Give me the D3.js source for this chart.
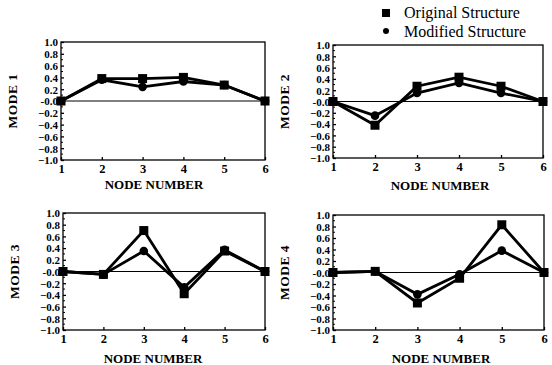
<!DOCTYPE html>
<html lang="en">
  <head>
    <meta charset="UTF-8" />
    <title>Mode shapes</title>
    <script src="https://d3js.org/d3.v7.min.js"></script>
    <style>
      body { margin: 0; background: #fff; }
      svg text { font-family: "Liberation Serif", "DejaVu Serif", serif; font-weight: bold; fill: #000; }
    </style>
  </head>
  <body>
    <svg id="chart" width="552" height="365"></svg>
    <script>
      let nodes = [1, 2, 3, 4, 5, 6]
      let yTicks = [1.0, 0.8, 0.6, 0.4, 0.2, 0.0, -0.2, -0.4, -0.6, -0.8, -1.0]
      let modeNames = ['MODE 1', 'MODE 2', 'MODE 3', 'MODE 4']
      let original1 = [0, 0.38, 0.38, 0.40, 0.27, 0]
      let modified1 = [0, 0.36, 0.24, 0.33, 0.27, 0]
      let original2 = [0, -0.42, 0.27, 0.43, 0.27, 0]
      let modified2 = [0, -0.25, 0.15, 0.33, 0.15, 0]
      let original3 = [0, -0.05, 0.70, -0.38, 0.35, 0]
      let modified3 = [0, -0.05, 0.35, -0.27, 0.37, 0]
      let original4 = [0, 0.02, -0.53, -0.10, 0.83, 0]
      let modified4 = [0, 0.02, -0.38, -0.03, 0.38, 0]

      let originals = [original1, original2, original3, original4]
      let modifieds = [modified1, modified2, modified3, modified4]

      // panel boxes: left, right, top, bottom, x-title center, x-title baseline offset
      let boxes = [
        [61, 265, 42, 160, 154, 29],
        [333, 543, 45, 158, 440, 32],
        [63, 265, 213, 330, 153, 33],
        [333, 544, 215, 330, 441, 33],
      ]

      let svg = d3.select('#chart')

      function fmt(d) {
        if (d === 0) return '-0.0'
        return d3.format('.1f')(d)
      }

      boxes.forEach(function(b, i) {
        let x = d3.scaleLinear().domain([1, 6]).range([b[0], b[1]])
        let y = d3.scaleLinear().domain([-1, 1]).range([b[3], b[2]])
        let g = svg.append('g')

        g.append('rect')
          .attr('x', b[0]).attr('y', b[2])
          .attr('width', b[1] - b[0]).attr('height', b[3] - b[2])
          .attr('fill', 'none').attr('stroke', '#000').attr('stroke-width', 1.3)

        // left axis, ticks inward
        let yAxis = d3.axisLeft(y).tickValues(yTicks).tickFormat(fmt).tickSizeInner(-3).tickSizeOuter(0).tickPadding(3)
        let ya = g.append('g').attr('transform', `translate(${b[0]},0)`).call(yAxis)
        ya.select('.domain').remove()
        ya.selectAll('line').attr('stroke-width', 1.3)
        ya.selectAll('text').style('font-size', '11px').attr('dy', '0.35em')

        // minor ticks
        g.selectAll('.minor')
          .data(d3.range(-0.9, 1.0, 0.2))
          .enter().append('line')
          .attr('x1', b[0]).attr('x2', b[0] + 2)
          .attr('y1', d => y(d)).attr('y2', d => y(d))
          .attr('stroke', '#000')

        let xAxis = d3.axisBottom(x).tickValues(nodes).tickFormat(d3.format('d')).tickSizeInner(-3).tickSizeOuter(0).tickPadding(4)
        let xa = g.append('g').attr('transform', `translate(0,${b[3]})`).call(xAxis)
        xa.select('.domain').remove()
        xa.selectAll('line').attr('stroke-width', 1.3)
        xa.selectAll('text').style('font-size', '12.5px')

        // zero line
        g.append('line')
          .attr('x1', b[0]).attr('x2', b[1])
          .attr('y1', y(0)).attr('y2', y(0))
          .attr('stroke', '#000').attr('stroke-width', 1)

        g.append('text')
          .attr('x', b[4]).attr('y', b[3] + b[5])
          .attr('text-anchor', 'middle')
          .style('font-size', '13px')
          .text('NODE NUMBER')

        g.append('text')
          .attr('transform', `translate(${b[0] - 44},${(b[2] + b[3]) / 2}) rotate(-90)`)
          .attr('text-anchor', 'middle')
          .style('font-size', '13.5px')
          .style('letter-spacing', '0.5px')
          .text(modeNames[i])

        let line = d3.line().x((d, j) => x(nodes[j])).y(d => y(d))

        g.append('path').datum(modifieds[i])
          .attr('d', line).attr('fill', 'none').attr('stroke', '#000').attr('stroke-width', 2.8)
        g.append('path').datum(originals[i])
          .attr('d', line).attr('fill', 'none').attr('stroke', '#000').attr('stroke-width', 2.8)

        g.selectAll('.sq').data(originals[i]).enter().append('rect')
          .attr('x', (d, j) => x(nodes[j]) - 4.5).attr('y', d => y(d) - 4.5)
          .attr('width', 9).attr('height', 9).attr('fill', '#000')
        g.selectAll('.ci').data(modifieds[i]).enter().append('circle')
          .attr('cx', (d, j) => x(nodes[j])).attr('cy', d => y(d))
          .attr('r', 4.3).attr('fill', '#000')
      })

      // legend
      let legend = svg.append('g')
      legend.append('rect').attr('x', 382).attr('y', 9).attr('width', 8).attr('height', 8).attr('fill', '#000')
      legend.append('circle').attr('cx', 386).attr('cy', 31).attr('r', 3).attr('fill', '#000')
      legend.append('text').attr('x', 404).attr('y', 18).style('font-size', '16px').style('font-weight', 'normal').text('Original Structure')
      legend.append('text').attr('x', 404).attr('y', 37).style('font-size', '16px').style('font-weight', 'normal').text('Modified Structure')
    </script>
  </body>
</html>
